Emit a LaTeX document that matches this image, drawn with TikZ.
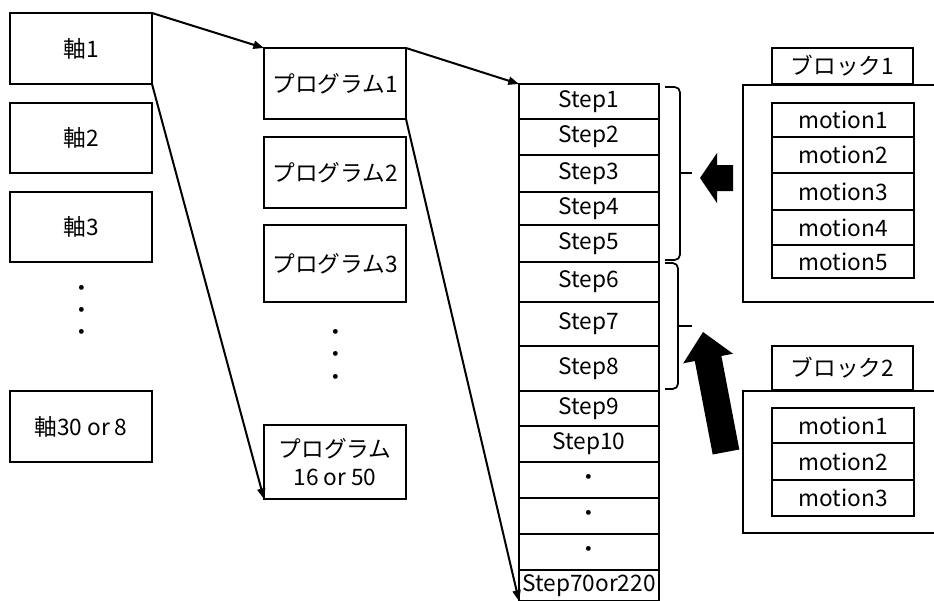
\documentclass[tikz,border=0pt]{standalone}
\usepackage{fontspec}
\setmainfont{Noto Sans CJK JP}
\usetikzlibrary{arrows.meta}
\tikzset{
  box/.style={draw, line width=1.6pt, inner sep=0pt, outer sep=0pt, fill=white,
    font=\fontsize{17}{21}\selectfont, align=center},
  dotn/.style={inner sep=0pt, font=\fontsize{17}{21}\selectfont},
  conn/.style={line width=1.5pt, -{Triangle[length=8pt,width=6pt]}},
  brc/.style={line width=1.3pt, rounded corners=4pt},
  fat/.style={fill=black, draw=none}
}
\newcommand{\mybox}[6]{\node[box, minimum width={(#4-#2)*0.75pt}, minimum height={(#5-#3)*0.75pt}] (#1) at ({(#2+#4)/2},{(#3+#5)/2}) {#6};}
\begin{document}
\begin{tikzpicture}[x=0.75pt, y=-0.75pt]
\useasboundingbox (0,0) rectangle (934,600);
% axes
\mybox{ax1}{10}{13}{152}{84}{軸1}
\mybox{ax2}{10}{103}{152}{173}{軸2}
\mybox{ax3}{10}{192}{152}{262}{軸3}
\mybox{ax4}{10}{391}{152}{462}{軸30 or 8}
\node[dotn] (axd1) at (82,291) {・};
\node[dotn] (axd2) at (82,313) {・};
\node[dotn] (axd3) at (82,335) {・};
% programs
\mybox{pg1}{264}{48}{406}{119}{プログラム1}
\mybox{pg2}{264}{137}{406}{208}{プログラム2}
\mybox{pg3}{264}{225}{406}{302}{プログラム3}
\mybox{pg4}{264}{425}{406}{499}{プログラム\\16 or 50}
\node[dotn] (pgd1) at (336,335) {・};
\node[dotn] (pgd2) at (336,357) {・};
\node[dotn] (pgd3) at (336,380) {・};
% steps
\mybox{s1}{519}{84}{659}{119}{Step1}
\mybox{s2}{519}{119}{659}{155}{Step2}
\mybox{s3}{519}{155}{659}{192}{Step3}
\mybox{s4}{519}{192}{659}{225}{Step4}
\mybox{s5}{519}{225}{659}{262}{Step5}
\mybox{s6}{519}{262}{659}{302}{Step6}
\mybox{s7}{519}{302}{659}{346}{Step7}
\mybox{s8}{519}{346}{659}{391}{Step8}
\mybox{s9}{519}{391}{659}{426}{Step9}
\mybox{s10}{519}{426}{659}{462}{Step10}
\mybox{sd1}{519}{462}{659}{498}{・}
\mybox{sd2}{519}{498}{659}{534}{・}
\mybox{sd3}{519}{534}{659}{570}{・}
\mybox{s70}{519}{570}{659}{601}{Step70or220}
% braces
\draw[brc] (665,87) -- (680,87) -- (680,260) -- (665,260);
\draw[line width=1.3pt] (680,173) -- (692,173);
\draw[brc] (665,263) -- (678,263) -- (678,389) -- (665,389);
\draw[line width=1.3pt] (678,326) -- (692,326);
% block 1
\mybox{b1}{743}{85}{960}{302}{}
\mybox{b1tab}{772}{48}{913}{84}{ブロック1}
\mybox{m1a}{772}{103}{914}{137}{motion1}
\mybox{m1b}{772}{137}{914}{173}{motion2}
\mybox{m1c}{772}{173}{914}{210}{motion3}
\mybox{m1d}{772}{210}{914}{245}{motion4}
\mybox{m1e}{772}{245}{914}{278}{motion5}
% block 2
\mybox{b2}{743}{391}{960}{533}{}
\mybox{b2tab}{772}{346}{913}{390}{ブロック2}
\mybox{m2a}{772}{408}{914}{443}{motion1}
\mybox{m2b}{772}{443}{914}{480}{motion2}
\mybox{m2c}{772}{480}{914}{516}{motion3}
% fat arrows
\fill[fat] (700,178) -- (717,153) -- (717,165) -- (733,165) -- (733,191) -- (717,191) -- (717,203) -- cycle;
\fill[fat] (703,332) -- (733.0,353.7) -- (721.4,356.0) -- (739.3,449.5) -- (712.7,454.5) -- (694.8,361.0) -- (683.2,363.3) -- cycle;
% connectors
\draw[conn] (ax1.north east) -- (pg1.north west);
\draw[conn] (ax1.south east) -- (pg4.south west);
\draw[conn] (pg1.north east) -- (s1.north west);
\draw[conn] (pg1.south east) -- (s70.south west);
\end{tikzpicture}
\end{document}
